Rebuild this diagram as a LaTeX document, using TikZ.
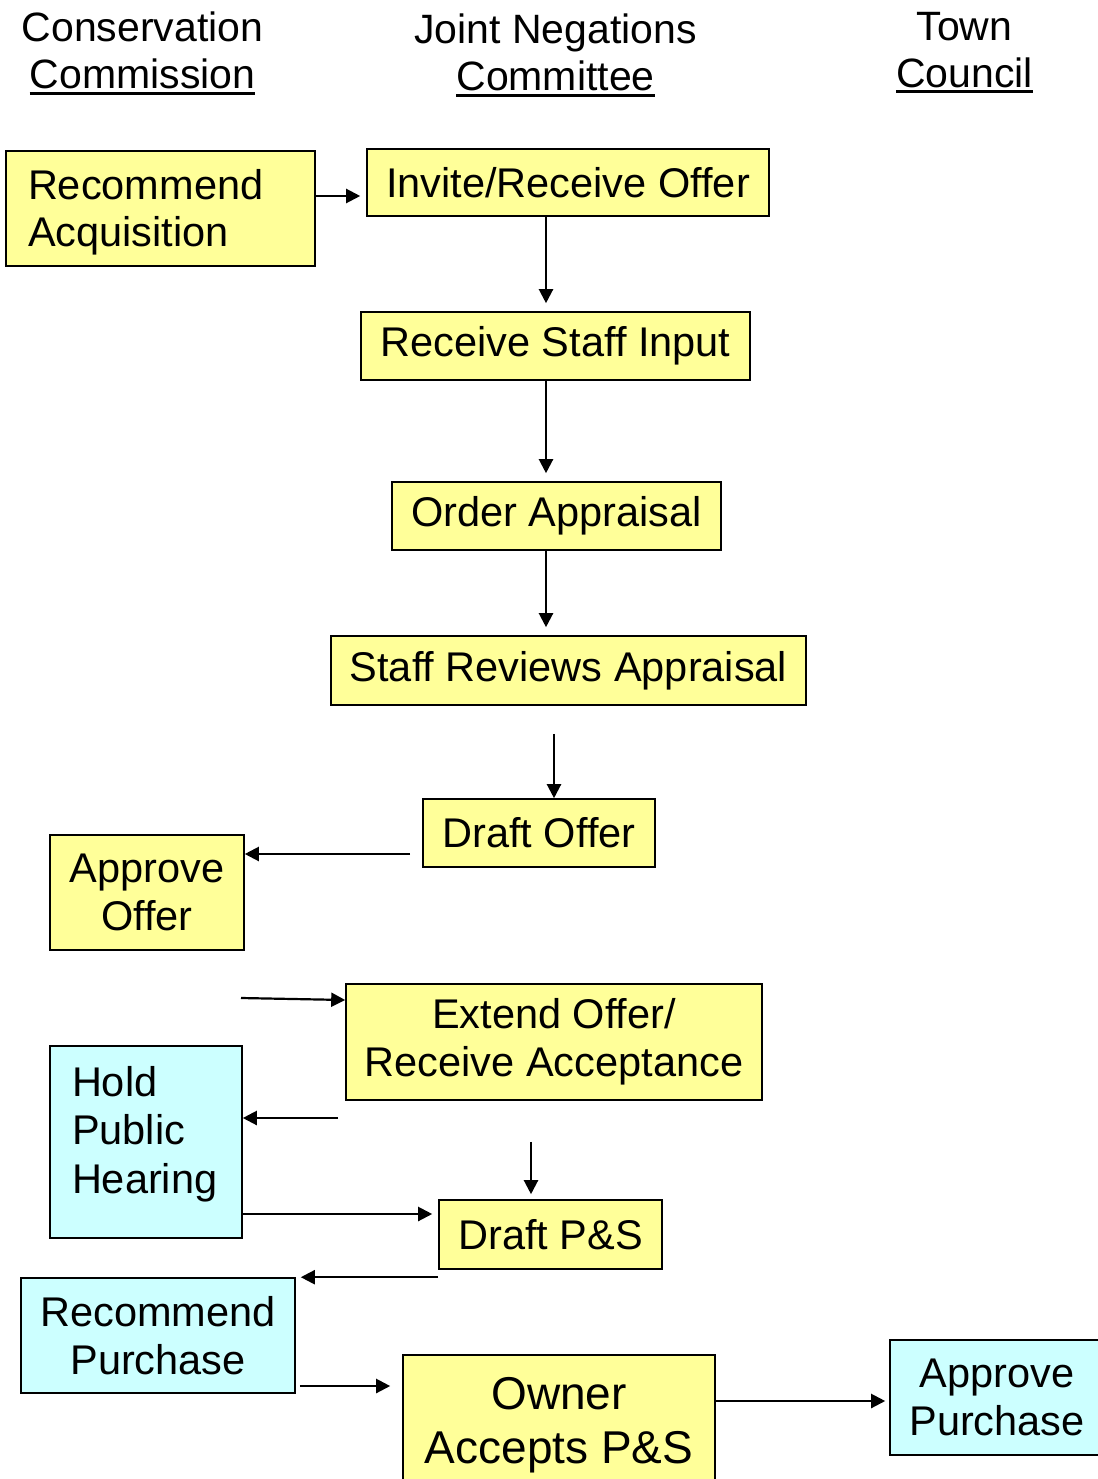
\documentclass[tikz,border=0pt]{standalone}
\usepackage{fontspec}
\setmainfont{Liberation Sans}
\usetikzlibrary{arrows.meta, positioning}
\definecolor{stepyellow}{HTML}{FFFF99}
\definecolor{stepcyan}{HTML}{CCFFFF}
\newcommand{\hdrul}[1]{\setbox0=\hbox{#1}\rlap{\rule[-6pt]{\wd0}{3pt}}\box0}

\begin{document}
\begin{tikzpicture}[x=1pt, y=-1pt,
  stepbox/.style={draw, line width=1.6pt, inner sep=0pt, align=center,
                  font=\fontsize{41.5}{47.5}\selectfont},
  jnc/.style={stepbox, fill=stepyellow},
  town/.style={stepbox, fill=stepcyan},
  head/.style={inner sep=0pt, align=center, anchor=north,
               font=\fontsize{41}{47}\selectfont},
  flow/.style={line width=2.2pt, -{Triangle[length=14pt,width=14pt]}}]
  \useasboundingbox (0,0) rectangle (1097,1479);
  % column headings
  \node[head] (cc)  at (142.5,12) {Conservation\\\hdrul{Commission}};
  \node[head] (jnc) at (555.5,14) {Joint Negations\\\hdrul{Committee}};
  \node[head] (tc)  at (964.5,12) {Town\\\hdrul{Council}};
  % steps
  \node[jnc, align=left, text width=265pt, inner xsep=22pt, minimum height=115pt,
        text depth=49pt]
    (recacq) at (160.5,208.5) {Recommend\\Acquisition};
  \node[jnc, minimum width=402pt, minimum height=67pt] (invite)  at (568,182.5) {Invite/Receive Offer};
  \node[jnc, minimum width=389pt, minimum height=68pt] (staff)   at (555.5,346) {Receive Staff Input};
  \node[jnc, minimum width=329pt, minimum height=68pt] (order)   at (556.5,516) {Order Appraisal};
  \node[jnc, minimum width=475pt, minimum height=69pt] (reviews) at (568.5,670.5) {Staff Reviews Appraisal};
  \node[jnc, minimum width=232pt, minimum height=68pt] (draftoffer) at (539,833) {Draft Offer};
  \node[jnc, minimum width=194pt, minimum height=115pt] (approveoffer) at (147,892.5) {Approve\\Offer};
  \node[jnc, minimum width=416pt, minimum height=116pt] (extend)  at (554,1042) {Extend Offer/\\Receive Acceptance};
  \node[town, align=left, text width=148pt, inner xsep=22pt, minimum height=192pt,
        text depth=122pt, font=\fontsize{41.5}{48.5}\selectfont]
    (hearing) at (146,1142) {Hold\\Public\\Hearing};
  \node[jnc, minimum width=223pt, minimum height=69pt] (draftps) at (550.5,1234.5) {Draft P\&S};
  \node[town, minimum width=274pt, minimum height=115pt] (recpurch) at (158,1335.5) {Recommend\\Purchase};
  \node[jnc, minimum width=312pt, minimum height=140pt, font=\fontsize{46}{54}\selectfont]
    (owner) at (559,1425) {Owner\\Accepts P\&S};
  \node[town, minimum width=214pt, minimum height=115pt] (appurch) at (997,1397.5) {Approve\\Purchase};
  % rows and columns of the connectors
  \coordinate (r1) at (0,196);
  \coordinate (spine) at (546,0);
  \coordinate (c2) at (554,0);
  \coordinate (r2) at (0,854);
  \coordinate (loose) at (241,998);
  \coordinate (r3) at (0,1000);
  \coordinate (r4) at (0,1118);
  \coordinate (c3) at (531,0);
  \coordinate (r5) at (0,1214);
  \coordinate (r6) at (0,1386);
  \coordinate (r7) at (0,1401);
  % connectors
  \draw[flow, shorten >=6pt] (recacq.east |- r1) -- (invite.west |- r1);
  \draw[flow, shorten >=8pt] (invite.south -| spine) -- (staff.north -| spine);
  \draw[flow, shorten >=8pt] (staff.south -| spine) -- (order.north -| spine);
  \draw[flow, shorten >=8pt] (order.south -| spine) -- (reviews.north -| spine);
  \draw[flow, shorten <=28pt] (reviews.south -| c2) -- (draftoffer.north -| c2);
  \draw[flow, shorten <=12pt] (draftoffer.west |- r2) -- (approveoffer.east |- r2);
  \draw[flow] (loose) -- (extend.west |- r3);
  \draw[flow, shorten <=7pt] (extend.west |- r4) -- (hearing.east |- r4);
  \draw[flow, shorten <=41pt, shorten >=5pt] (extend.south -| c3) -- (draftps.north -| c3);
  \draw[flow, shorten >=6pt] (hearing.east |- r5) -- (draftps.west |- r5);
  \draw[flow, shorten >=5pt] (draftps.west |- recpurch.north) -- (recpurch.north east);
  \draw[flow, shorten <=4pt, shorten >=12pt] (recpurch.east |- r6) -- (owner.west |- r6);
  \draw[flow, shorten >=4pt] (owner.east |- r7) -- (appurch.west |- r7);
\end{tikzpicture}
\end{document}
